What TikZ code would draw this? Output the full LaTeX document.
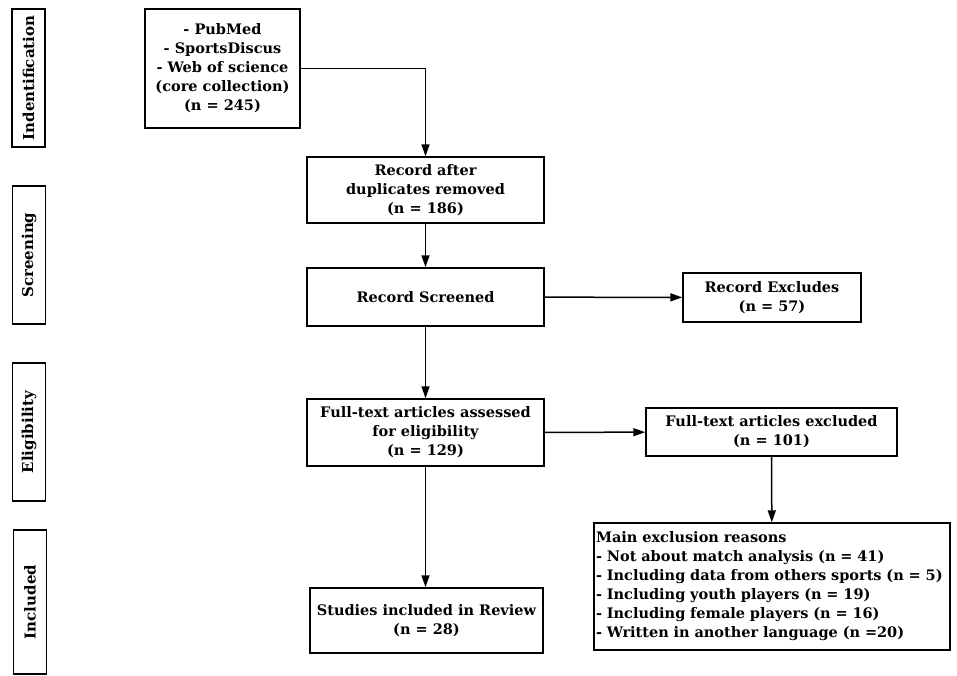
\documentclass[tikz,border=0pt]{standalone}
\usepackage{fontspec}
\setmainfont{DejaVu Serif}
\usepackage{tikz}
\usetikzlibrary{arrows.meta}

\begin{document}
\begin{tikzpicture}[x=1pt,y=-1pt,
    box/.style={draw, line width=1.5pt, align=center, inner sep=2pt,
      font=\fontsize{14.5}{19}\selectfont\bfseries},
    phase/.style={draw, line width=1.5pt, rotate=90, minimum height=33pt,
      minimum width=138pt, inner sep=0pt, font=\fontsize{15}{17}\selectfont\bfseries},
    arr/.style={line width=1.5pt, -{Triangle[length=12pt,width=8pt]}}]
    \useasboundingbox (0,0) rectangle (957,675);

    % Fases
    \node[phase] (ident) at (28.5,78) {Indentification};
    \node[phase] (screen) at (29,255) {Screening};
    \node[phase] (elig) at (29,432) {Eligibility};
    \node[phase, minimum width=144pt] (incl) at (30,602) {Included};

    % Coluna principal
    \node[box, minimum width=155pt, minimum height=119pt] (src) at (222.5,68.5)
      {- PubMed\\- SportsDiscus\\- Web of science\\(core collection)\\(n = 245)};
    \node[box, minimum width=237pt, minimum height=66pt] (dup) at (425.5,190)
      {Record after\\duplicates removed\\(n = 186)};
    \node[box, minimum width=237pt, minimum height=58pt] (scr) at (425.5,297)
      {Record Screened};
    \node[box, minimum width=237pt, minimum height=67pt] (full) at (425.5,432.5)
      {Full-text articles assessed\\for eligibility\\(n = 129)};
    \node[box, minimum width=233pt, minimum height=65pt] (study) at (426.5,620.5)
      {Studies included in Review\\(n = 28)};

    % Exclusoes
    \node[box, minimum width=178pt, minimum height=49pt] (rexc) at (772,297.5)
      {Record Excludes\\(n = 57)};
    \node[box, minimum width=251pt, minimum height=48pt] (fexc) at (771.5,432)
      {Full-text articles excluded\\(n = 101)};
    \node[box, align=left, text width=352pt, minimum height=127pt] (reasons) at (772,586.5)
      {Main exclusion reasons\\- Not about match analysis (n = 41)\\- Including data from others sports (n = 5)\\- Including youth players (n = 19)\\- Including female players (n = 16)\\- Written in another language (n =20)};

    % Setas
    \draw[arr] (src.east) -| (dup.north);
    \draw[arr] (dup) -- (scr);
    \draw[arr] (scr) -- (rexc);
    \draw[arr] (scr) -- (full);
    \draw[arr] (full) -- (fexc);
    \draw[arr] (fexc) -- (reasons);
    \draw[arr] (full.south) -- (full.south |- study.north);
\end{tikzpicture}
\end{document}
